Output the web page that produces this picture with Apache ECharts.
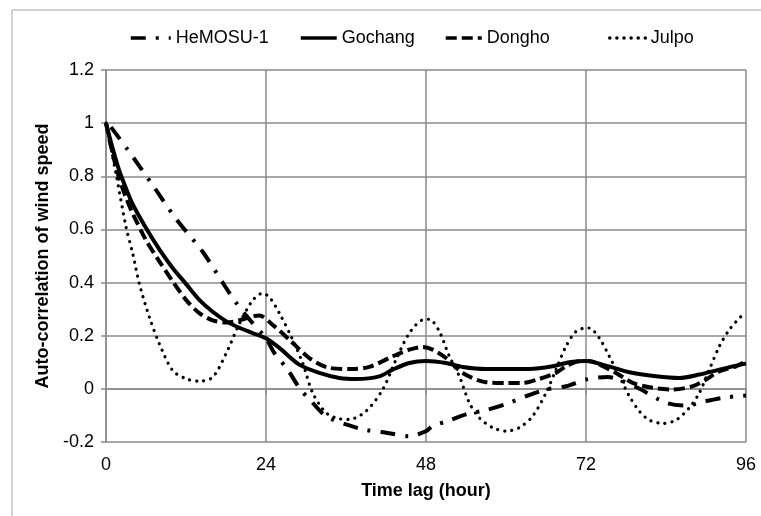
<!DOCTYPE html>
<html><head><meta charset="utf-8">
<script src="https://cdn.jsdelivr.net/npm/echarts@6/dist/echarts.min.js"></script>
<style>html,body{margin:0;padding:0;background:#fff}#c{width:761px;height:516px}</style>
</head><body><div id="c"></div>
<script>
const xTicks = [0, 24, 48, 72, 96];
const yTicks = [-0.2, 0, 0.2, 0.4, 0.6, 0.8, 1, 1.2];

const hemosuLag = [0.75, 3.25, 7, 10.5, 14.5, 17.75, 19.5, 21.5, 24, 25.25, 27.25, 29, 31, 33, 36, 39, 42, 45.5, 48, 49, 51.25, 54, 57, 60.5, 63, 66, 69, 72, 75.25, 77.5, 79.75, 84, 87, 90, 93, 96];
const hemosuAcf = [0.985, 0.9, 0.767, 0.64, 0.516, 0.39, 0.325, 0.262, 0.19, 0.135, 0.0725, 0.004, -0.0525, -0.1025, -0.134, -0.155, -0.165, -0.178, -0.159, -0.14, -0.121, -0.096, -0.08, -0.0525, -0.0275, -0.0025, 0.01, 0.035, 0.045, 0.029, 0.004, -0.052, -0.063, -0.046, -0.032, -0.025];

const gochangLag = [0, 1, 2, 3, 4, 6, 8, 10, 12, 14, 16, 18, 20, 22, 24, 26, 29, 32, 35, 37.5, 41, 43, 45.5, 48, 51, 53.5, 57, 60, 63.5, 67, 69.5, 72, 75, 78.5, 82.5, 86, 89, 92, 94.5, 96];
const gochangAcf = [1.0, 0.905, 0.82, 0.755, 0.695, 0.605, 0.525, 0.455, 0.395, 0.335, 0.29, 0.255, 0.23, 0.21, 0.19, 0.154, 0.091, 0.06, 0.041, 0.037, 0.047, 0.0725, 0.0975, 0.105, 0.0975, 0.0825, 0.075, 0.075, 0.075, 0.085, 0.1, 0.105, 0.0875, 0.0625, 0.0475, 0.041, 0.054, 0.0725, 0.0875, 0.095];

const donghoLag = [0, 1, 2, 3, 4, 6, 8, 10, 12, 14, 16, 18, 20, 22, 23, 25, 27.5, 30.5, 33.5, 36.5, 39.5, 43, 45.5, 47.5, 49, 51, 53.5, 57, 60, 62.5, 65, 67.5, 69, 71, 72.5, 73.5, 76.5, 79, 82, 85, 88, 90, 92, 94.5, 96];
const donghoAcf = [1.0, 0.885, 0.79, 0.72, 0.66, 0.56, 0.48, 0.405, 0.335, 0.285, 0.258, 0.25, 0.258, 0.273, 0.276, 0.241, 0.185, 0.116, 0.079, 0.075, 0.0825, 0.1225, 0.1475, 0.1575, 0.1475, 0.116, 0.06, 0.025, 0.0225, 0.0225, 0.0375, 0.06, 0.085, 0.104, 0.105, 0.0975, 0.06, 0.0225, 0.004, -0.0025, 0.01, 0.035, 0.066, 0.085, 0.104];

const julpoLag = [0, 1.5, 3, 4, 5, 6.5, 8, 10, 12, 14, 16, 18, 20, 22, 23.5, 24.6, 26, 28, 29.5, 31, 33, 35, 36.5, 39, 41.5, 43.5, 45.5, 47.5, 48.5, 50, 51.5, 53, 54.5, 56, 58, 60, 62, 64, 66, 67.5, 69, 70.5, 72, 72.5, 74, 75.5, 77, 78.5, 80, 81.5, 83.5, 85.5, 87.5, 89, 90.5, 92, 93.5, 95.25, 96];
const julpoAcf = [1.0, 0.81, 0.61, 0.51, 0.396, 0.27, 0.17, 0.069, 0.038, 0.029, 0.044, 0.132, 0.245, 0.333, 0.36, 0.342, 0.285, 0.185, 0.0975, -0.015, -0.09, -0.1125, -0.115, -0.084, -0.0025, 0.11, 0.21, 0.26, 0.262, 0.216, 0.1225, 0.0475, -0.0525, -0.109, -0.146, -0.159, -0.146, -0.1025, -0.015, 0.0725, 0.16, 0.216, 0.229, 0.229, 0.191, 0.1225, 0.0475, -0.0275, -0.084, -0.1175, -0.13, -0.1175, -0.071, -0.015, 0.0725, 0.16, 0.2225, 0.2725, 0.285];

const seriesNames = ['HeMOSU-1', 'Gochang', 'Dongho', 'Julpo'];

function pairs(xs, ys) { return xs.map((x, i) => [x, ys[i]]); }

const FONT = '"Liberation Sans", Arial, sans-serif';
const GRID = '#8a8a8a';

const chart = echarts.init(document.getElementById('c'), null, {renderer: 'canvas'});
const legendBase = {
  top: 24, itemHeight: 14, itemWidth: 36, itemGap: 0,
  textStyle: {fontFamily: FONT, fontSize: 18, color: '#000'},
  itemStyle: {opacity: 0},
  lineStyle: {width: 3.5}
};
chart.setOption({
  animation: false,
  backgroundColor: '#fff',
  graphic: [{
    type: 'rect', shape: {x: 12, y: 10, width: 820, height: 620},
    style: {fill: 'none', stroke: '#a6a6a6', lineWidth: 1}, silent: true
  }],
  legend: [
    Object.assign({}, legendBase, {left: 124, itemWidth: 40, data: [seriesNames[0]]}),
    Object.assign({}, legendBase, {left: 294, data: [seriesNames[1]]}),
    Object.assign({}, legendBase, {left: 439, data: [seriesNames[2]]}),
    Object.assign({}, legendBase, {left: 603, data: [seriesNames[3]]})
  ],
  grid: {left: 106, right: 15, top: 70, bottom: 74},
  xAxis: {
    type: 'value', min: xTicks[0], max: xTicks[xTicks.length - 1], interval: 24,
    name: 'Time lag (hour)', nameLocation: 'middle', nameGap: 40,
    nameTextStyle: {fontFamily: FONT, fontSize: 18, fontWeight: 'bold', color: '#000'},
    axisLine: {show: true, lineStyle: {color: GRID, width: 1.5}},
    axisTick: {show: true, length: 5, lineStyle: {color: GRID, width: 1.5}},
    axisLabel: {fontFamily: FONT, fontSize: 18, color: '#000', margin: 14},
    splitLine: {show: true, lineStyle: {color: GRID, width: 1.5}}
  },
  yAxis: {
    type: 'value', min: yTicks[0], max: yTicks[yTicks.length - 1], interval: 0.2,
    name: 'Auto-correlation of wind speed', nameLocation: 'middle', nameGap: 52,
    nameTextStyle: {fontFamily: FONT, fontSize: 18, fontWeight: 'bold', color: '#000'},
    axisLine: {show: true, lineStyle: {color: GRID, width: 1.5}},
    axisTick: {show: true, length: 5, lineStyle: {color: GRID, width: 1.5}},
    axisLabel: {fontFamily: FONT, fontSize: 18, color: '#000', margin: 12,
      formatter: v => String(Math.round(v * 10) / 10)},
    splitLine: {show: true, lineStyle: {color: GRID, width: 1.5}}
  },
  series: [
    {name: seriesNames[0], type: 'line', smooth: 0.3, symbol: 'none',
      data: pairs(hemosuLag, hemosuAcf),
      lineStyle: {color: '#000', width: 4, type: [15, 10, 3, 10], cap: 'butt'}, itemStyle: {color: '#000'}},
    {name: seriesNames[1], type: 'line', smooth: 0.3, symbol: 'none',
      data: pairs(gochangLag, gochangAcf),
      lineStyle: {color: '#000', width: 4, type: 'solid'}, itemStyle: {color: '#000'}},
    {name: seriesNames[2], type: 'line', smooth: 0.3, symbol: 'none',
      data: pairs(donghoLag, donghoAcf),
      lineStyle: {color: '#000', width: 4, type: [11, 5], cap: 'butt'}, itemStyle: {color: '#000'}},
    {name: seriesNames[3], type: 'line', smooth: 0.3, symbol: 'none',
      data: pairs(julpoLag, julpoAcf),
      lineStyle: {color: '#000', width: 3.2, type: [0.1, 7], cap: 'round'}, itemStyle: {color: '#000'}}
  ]
});
</script>
</body></html>
